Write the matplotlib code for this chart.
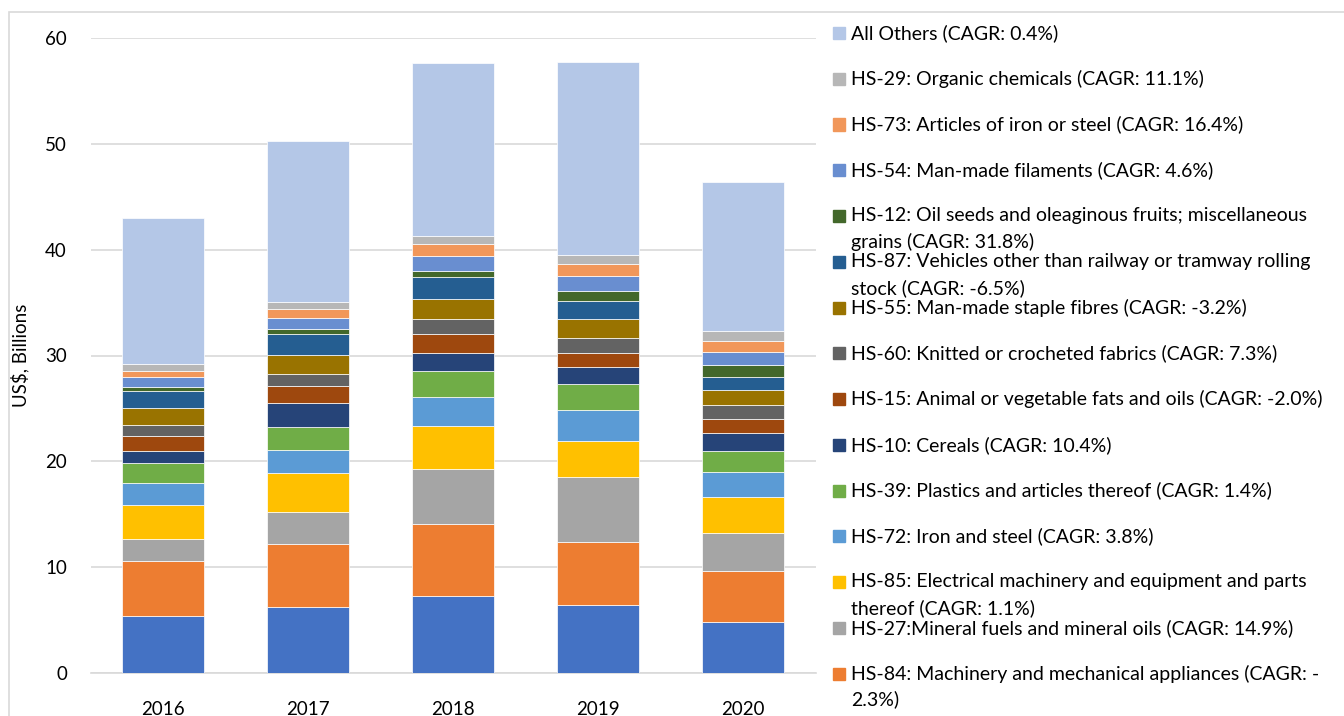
import numpy as np
import matplotlib.pyplot as plt
from matplotlib.patches import Rectangle

plt.rcParams['font.family'] = ['Lato', 'DejaVu Sans']

anos = ['2016', '2017', '2018', '2019', '2020']

# series, bottom of stack first (US$ billions)
base   = [5.36, 6.21, 7.28, 6.45, 4.85]
hs84   = [5.25, 5.95, 6.80, 5.90, 4.79]
hs27   = [2.08, 3.08, 5.17, 6.17, 3.62]
hs85   = [3.16, 3.69, 4.09, 3.40, 3.34]
hs72   = [2.08, 2.11, 2.74, 2.93, 2.39]
hs39   = [1.91, 2.20, 2.46, 2.43, 2.02]
hs10   = [1.17, 2.24, 1.73, 1.66, 1.70]
hs15   = [1.41, 1.64, 1.73, 1.26, 1.32]
hs60   = [1.01, 1.16, 1.42, 1.43, 1.32]
hs55   = [1.58, 1.74, 1.92, 1.79, 1.36]
hs87   = [1.67, 1.98, 2.08, 1.76, 1.26]
hs12   = [0.34, 0.50, 0.59, 0.89, 1.16]
hs54   = [0.98, 1.07, 1.42, 1.47, 1.17]
hs73   = [0.57, 0.83, 1.07, 1.11, 1.10]
hs29   = [0.66, 0.69, 0.82, 0.88, 0.92]
outros = [13.76, 15.18, 16.32, 18.20, 14.08]

series = [base, hs84, hs27, hs85, hs72, hs39, hs10, hs15, hs60, hs55,
          hs87, hs12, hs54, hs73, hs29, outros]

rotulos = [
    '',
    'HS-84: Machinery and mechanical appliances (CAGR: -\n2.3%)',
    'HS-27:Mineral fuels and mineral oils (CAGR: 14.9%)',
    'HS-85: Electrical machinery and equipment and parts\nthereof (CAGR: 1.1%)',
    'HS-72: Iron and steel (CAGR: 3.8%)',
    'HS-39: Plastics and articles thereof (CAGR: 1.4%)',
    'HS-10: Cereals (CAGR: 10.4%)',
    'HS-15: Animal or vegetable fats and oils (CAGR: -2.0%)',
    'HS-60: Knitted or crocheted fabrics (CAGR: 7.3%)',
    'HS-55: Man-made staple fibres (CAGR: -3.2%)',
    'HS-87: Vehicles other than railway or tramway rolling\nstock (CAGR: -6.5%)',
    'HS-12: Oil seeds and oleaginous fruits; miscellaneous\ngrains (CAGR: 31.8%)',
    'HS-54: Man-made filaments (CAGR: 4.6%)',
    'HS-73: Articles of iron or steel (CAGR: 16.4%)',
    'HS-29: Organic chemicals (CAGR: 11.1%)',
    'All Others (CAGR: 0.4%)',
]

cores = ['#4472C4', '#ED7D31', '#A5A5A5', '#FFC000', '#5B9BD5', '#70AD47',
         '#264478', '#9E480E', '#636363', '#997300', '#255E91', '#43682B',
         '#698ED0', '#F1975A', '#B7B7B7', '#B4C7E7']

W, H = 1344, 716
fig = plt.figure(figsize=(W / 100, H / 100), dpi=100)
ax = fig.add_axes([90.5 / W, 43 / H, 725 / W, 635 / H])

x = np.arange(len(anos))
fundo = np.zeros(len(anos))
for vals, cor in zip(series, cores):
    ax.bar(x, vals, bottom=fundo, width=0.56, color=cor,
           edgecolor='white', linewidth=0.5, zorder=3)
    fundo = fundo + np.array(vals)

ax.set_xlim(-0.5, len(anos) - 0.5)
ax.set_ylim(0, 60)
ax.set_yticks(range(0, 61, 10))
ax.set_xticks(x)
ax.set_xticklabels(anos)
ax.yaxis.grid(True, color='#D9D9D9', linewidth=1.2, zorder=0)
ax.set_axisbelow(True)
for lado in ['top', 'right', 'left']:
    ax.spines[lado].set_visible(False)
ax.spines['bottom'].set_color('#D9D9D9')
ax.spines['bottom'].set_linewidth(1.2)
ax.tick_params(axis='y', length=0, pad=17, labelsize=13.5)
ax.tick_params(axis='x', length=0, pad=20, labelsize=13.5)

fig.text(20 / W, 1 - 355 / H, 'US$, Billions', rotation=90,
         ha='center', va='center', fontsize=13.5)

# legend, drawn by hand to keep Excel's spacing
passo = 45.75
i = 0
for rot, cor in zip(rotulos[::-1], cores[::-1]):
    if not rot:
        continue
    yc = 33 + passo * i
    fig.patches.append(Rectangle((833 / W, 1 - (yc + 6) / H), 12 / W, 12 / H,
                                 transform=fig.transFigure, color=cor))
    for j, linha in enumerate(rot.split('\n')):
        fig.text(851 / W, 1 - (yc + 26 * j) / H, linha, ha='left',
                 va='center', fontsize=14)
    i += 1

# chart area border (runs off the cropped picture)
fig.patches.append(Rectangle((8.5 / W, -0.05), 1.2, 1.05 - 12.5 / H,
                             transform=fig.transFigure, fill=False,
                             edgecolor='#D9D9D9', linewidth=1.2))

fig.savefig('out.png', dpi=100)
